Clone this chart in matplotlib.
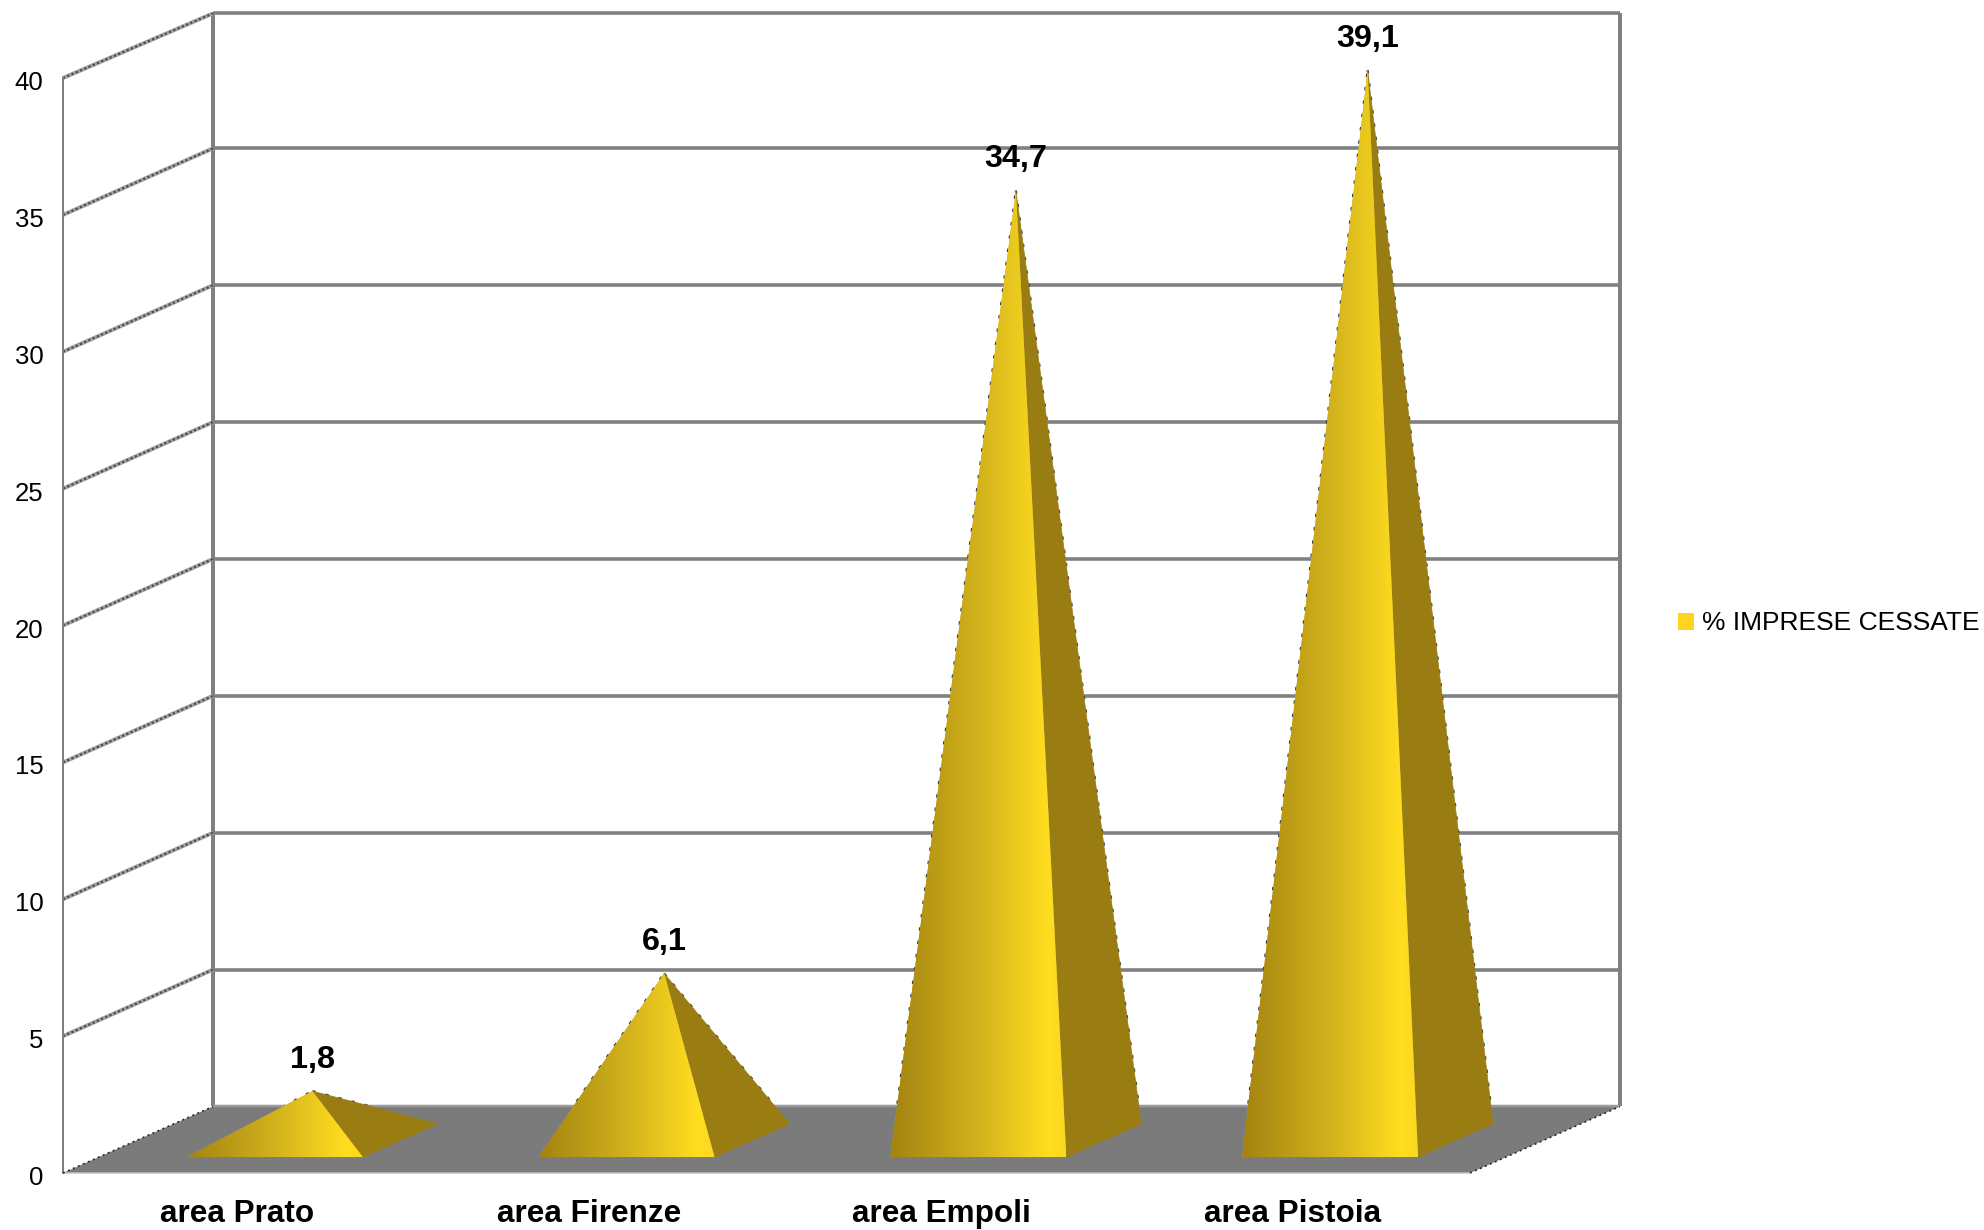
import matplotlib
matplotlib.use("Agg")
import matplotlib.pyplot as plt
import numpy as np
from matplotlib.colors import LinearSegmentedColormap
from matplotlib.patches import Patch, Polygon

plt.rcParams['font.family'] = ['Liberation Sans', 'DejaVu Sans']

categories = ["area Prato", "area Firenze", "area Empoli", "area Pistoia"]
values = [1.8, 6.1, 34.7, 39.1]
value_labels = ["1,8", "6,1", "34,7", "39,1"]
y_ticks = [0, 5, 10, 15, 20, 25, 30, 35, 40]
series_name = "% IMPRESE CESSATE"

W, H = 1984, 1230
DX, DY = 0.4264, 2.43          # depth offset in data units
GRID = '#808080'
DARK = '#3a3a3a'
SIDE = '#9a7d12'
D0, D1 = 0.24, 0.74
B0, B1 = 0.25, 0.75
WALL_TOP = 39.93


def proj(x, v, d):
    return x + d * DX, v + d * DY


fig = plt.figure(figsize=(W / 100, H / 100), dpi=100, facecolor='white')
ax = fig.add_axes([63 / W, 1 - 1173 / H, (1470 - 63) / W, (1173 - 78) / H])
ax.set_facecolor('none')
px = 72 / 100


def wall_line(xs, ys, lw=3, color=GRID, z=2, **kw):
    ax.plot(xs, ys, color=color, lw=lw * px, zorder=z, clip_on=False,
            solid_capstyle='butt', **kw)


# floor
floor = [proj(0, 0, 0), proj(4, 0, 0), proj(4, 0, 1), proj(0, 0, 1)]
ax.add_patch(Polygon(floor, closed=True, fc='#7b7b7b', ec='none', zorder=3, clip_on=False))
wall_line([floor[0][0], floor[1][0]], [floor[0][1], floor[1][1]], lw=1.5, color='#c4c4c4', z=3.1)
wall_line([floor[3][0], floor[2][0]], [floor[3][1], floor[2][1]], lw=2.5, color='#9a9a9a', z=3.1)

# back wall
for v in y_ticks[1:]:
    level = min(v, WALL_TOP)
    a, b = proj(0, level, 1), proj(4, level, 1)
    wall_line([a[0], b[0]], [a[1], b[1]], lw=3.6)
for x, lw in ((0, 4), (4, 4)):
    a, b = proj(x, 0, 1), proj(x, WALL_TOP, 1)
    wall_line([a[0], b[0]], [a[1], b[1]], lw=lw)

# side wall
for v in y_ticks[1:]:
    a, b = proj(0, v, 0), proj(0, min(v, WALL_TOP), 1)
    wall_line([a[0], b[0]], [a[1], b[1]], lw=4, color='#a4a4a4')
    ax.plot([a[0], b[0]], [a[1], b[1]], color='#4a4a4a', lw=2.2 * px, zorder=2.1,
            clip_on=False, dashes=(1.0, 1.1))
for x in (0, 4):
    a, b = proj(x, 0, 0), proj(x, 0, 1)
    ax.plot([a[0], b[0]], [a[1], b[1]], color='#222222', lw=1.6 * px, zorder=3.2,
            clip_on=False, dashes=(1.2, 2.2))

# pyramids
cmap = LinearSegmentedColormap.from_list(
    'gold', [(0, '#a38310'), (0.5, '#d2b21c'), (0.9, '#ffdd20'), (1, '#fbd820')])
for i, val in enumerate(values):
    fl = proj(i + B0, 0, D0)
    fr = proj(i + B1, 0, D0)
    br = proj(i + B1, 0, D1)
    apex = proj(i + (B0 + B1) / 2, val, (D0 + D1) / 2)

    # stepped silhouette edge, only visible above the floor
    for p, q in ((fl, apex), (apex, br)):
        ax.plot([p[0], q[0]], [p[1], q[1]], color=DARK, lw=2.2 * px, zorder=2.5,
                clip_on=False, dashes=(1.6, 4.5))

    ax.add_patch(Polygon([fr, br, apex], closed=True, fc=SIDE, ec=SIDE, lw=0.5,
                         zorder=4, clip_on=False))
    clip = Polygon([fl, fr, apex], closed=True, transform=ax.transData, fc='none', ec='none')
    ax.add_patch(Polygon([fl, fr, apex], closed=True, fc='#c9a818', ec='none',
                         zorder=4.5, clip_on=False))
    grad = np.linspace(0, 1, 256).reshape(1, -1)
    im = ax.imshow(grad, extent=(fl[0], fr[0], 0, apex[1] + 0.5), origin='lower',
                   aspect='auto', cmap=cmap, vmin=0, vmax=1, zorder=5,
                   interpolation='bilinear')
    im.set_clip_path(clip)
    im.set_clip_box(fig.bbox)
    ax.annotate(value_labels[i], xy=apex, xytext=(0, 31 * px), textcoords='offset points',
                ha='center', va='center', fontsize=23.3, fontweight='bold',
                color='black', zorder=6, annotation_clip=False)

ax.set_xlim(0, 4)
ax.set_ylim(0, 40)
ax.set_xticks([i + 0.496 for i in range(len(categories))])
ax.set_xticklabels(categories, fontsize=22.7, fontweight='bold')
ax.set_yticks(y_ticks)
ax.set_yticklabels([str(t) for t in y_ticks], fontsize=18.5)
ax.tick_params(axis='x', length=0, pad=18.6)
ax.tick_params(axis='y', length=0, pad=14)
for label in ax.get_yticklabels():
    label.set_y(-0.05)
    label.set_transform(label.get_transform() + matplotlib.transforms.ScaledTranslation(0, -2.5 / 100, fig.dpi_scale_trans))
for name in ('top', 'right', 'bottom'):
    ax.spines[name].set_visible(False)
ax.spines['left'].set_color(GRID)
ax.spines['left'].set_linewidth(2 * px)

fig.legend(handles=[Patch(fc='#ffd320', ec='none', label=series_name)],
           loc='center left', bbox_to_anchor=(1678 / W, 1 - 623.5 / H),
           frameon=False, fontsize=19, borderpad=0, borderaxespad=0,
           handlelength=0.61, handleheight=0.61, handletextpad=0.30)

fig.savefig('out.png', dpi=100, facecolor='white')
